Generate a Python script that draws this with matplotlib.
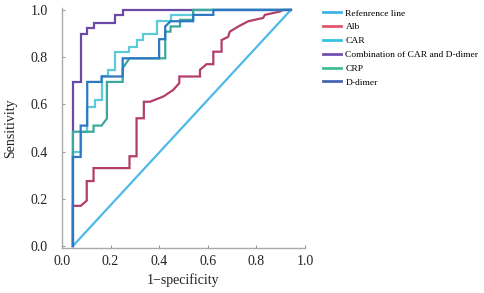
import numpy as np
import matplotlib
matplotlib.use("Agg")
import matplotlib.pyplot as plt
from matplotlib.lines import Line2D

plt.rcParams['font.family'] = ['Liberation Serif', 'DejaVu Serif']

labels = ['Refenrence line', 'Alb', 'CAR', 'Combination of CAR and D-dimer', 'CRP', 'D-dimer']
colors = ['#4fb9e9', '#b33e6c', '#5ccbd9', '#6a4aa6', '#3aa99c', '#2d78c2']
legend_colors = ['#3fb2e8', '#e0566a', '#35c2e0', '#7252b0', '#45bf92', '#4665b2']

ref_x = [0.045, 0.942]
ref_y = [0.0, 1.0]

alb_x = [0.045, 0.045, 0.077, 0.102, 0.102, 0.13, 0.13, 0.278, 0.278, 0.307, 0.307, 0.337, 0.337,
         0.362, 0.417, 0.458, 0.483, 0.483, 0.568, 0.568, 0.595, 0.623, 0.623, 0.657, 0.657,
         0.684, 0.691, 0.726, 0.767, 0.828, 0.835, 0.897, 0.91, 0.942]
alb_y = [0.0, 0.17, 0.17, 0.192, 0.275, 0.275, 0.33, 0.33, 0.38, 0.38, 0.541, 0.541, 0.611,
         0.611, 0.633, 0.661, 0.69, 0.718, 0.718, 0.746, 0.77, 0.77, 0.823, 0.823, 0.872,
         0.886, 0.908, 0.93, 0.952, 0.966, 0.979, 0.993, 1.0, 1.0]

car_x = [0.045, 0.045, 0.077, 0.077, 0.104, 0.104, 0.136, 0.136, 0.163, 0.163, 0.19, 0.19,
         0.218, 0.218, 0.278, 0.278, 0.307, 0.307, 0.335, 0.335, 0.39, 0.39, 0.447, 0.447,
         0.54, 0.54, 0.942]
car_y = [0.0, 0.40, 0.40, 0.484, 0.484, 0.588, 0.588, 0.62, 0.62, 0.718, 0.718, 0.746,
         0.746, 0.823, 0.823, 0.845, 0.845, 0.872, 0.872, 0.90, 0.90, 0.952, 0.952, 0.979,
         0.979, 1.0, 1.0]

comb_x = [0.045, 0.045, 0.077, 0.077, 0.102, 0.102, 0.13, 0.13, 0.218, 0.218, 0.25, 0.25, 0.942]
comb_y = [0.0, 0.695, 0.695, 0.90, 0.90, 0.923, 0.923, 0.944, 0.944, 0.979, 0.979, 1.0, 1.0]

crp_x = [0.045, 0.045, 0.13, 0.13, 0.163, 0.185, 0.185, 0.25, 0.25, 0.278, 0.425, 0.425,
         0.447, 0.447, 0.486, 0.486, 0.54, 0.54, 0.942]
crp_y = [0.0, 0.484, 0.484, 0.51, 0.51, 0.54, 0.695, 0.695, 0.753, 0.795, 0.795, 0.908,
         0.908, 0.93, 0.93, 0.958, 0.958, 1.0, 1.0]

dd_x = [0.045, 0.045, 0.077, 0.077, 0.104, 0.104, 0.163, 0.163, 0.25, 0.25, 0.40, 0.40,
        0.425, 0.425, 0.447, 0.54, 0.54, 0.623, 0.623, 0.942]
dd_y = [0.0, 0.377, 0.377, 0.51, 0.51, 0.695, 0.695, 0.718, 0.718, 0.795, 0.795, 0.876,
        0.876, 0.93, 0.952, 0.952, 0.979, 0.979, 1.0, 1.0]

curves = [(ref_x, ref_y), (alb_x, alb_y), (car_x, car_y), (comb_x, comb_y), (crp_x, crp_y), (dd_x, dd_y)]
ticks = [0.0, 0.2, 0.4, 0.6, 0.8, 1.0]

fig = plt.figure(figsize=(4.84, 2.93), dpi=100)
ax = fig.add_axes([0.128, 0.154, 0.502, 0.817])

for (xs, ys), c in zip(curves, colors):
    ax.plot(xs, ys, color=c, lw=1.6, solid_joinstyle='miter')

ax.set_xlim(0, 1.0)
ax.set_ylim(-0.008, 1.006)
ax.set_xticks(ticks)
ax.set_yticks(ticks)
ax.set_xticklabels(['%.1f' % v for v in ticks])
ax.set_yticklabels(['%.1f' % v for v in ticks])
ax.tick_params(direction='in', length=2.5, width=0.8, color='#999999',
               labelsize=10, labelcolor='#222222')
ax.tick_params(axis='x', pad=5)
ax.tick_params(axis='y', pad=10)
for s in ['top', 'right']:
    ax.spines[s].set_visible(False)
for s in ['left', 'bottom']:
    ax.spines[s].set_color('#aaaaaa')
    ax.spines[s].set_linewidth(1.0)

ax.set_xlabel('1\u2212specificity', fontsize=10, color='#222222', labelpad=4)
ax.set_ylabel('Sensitivity', fontsize=10, color='#222222', labelpad=10)

handles = [Line2D([], [], color=c, lw=2) for c in legend_colors]
fig.legend(handles, labels, loc='upper left', bbox_to_anchor=(0.667, 0.969), frameon=False,
           fontsize=6.8, handlelength=1.9, handletextpad=0.5, labelspacing=0.55,
           borderpad=0, borderaxespad=0)

fig.savefig('out.png', dpi=100)
